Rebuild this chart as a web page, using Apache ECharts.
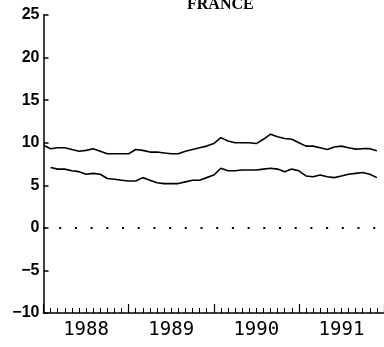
<!DOCTYPE html>
<html>
<head>
<meta charset="utf-8">
<script src="https://cdn.jsdelivr.net/npm/echarts@6/dist/echarts.min.js"></script>
<style>
  html, body { margin: 0; padding: 0; background: #fff; }
  #chart { width: 384px; height: 347px; }
</style>
</head>
<body>
<div id="chart"></div>
<script>
// monthly series, Jan 1988 onwards
let startYear = 1988;
let yearLabels = [1988, 1989, 1990, 1991];
let yTicks = [-10, -5, 0, 5, 10, 15, 20, 25];

let upperValues = [
  9.7, 9.3, 9.4, 9.4, 9.2, 9.0, 9.1, 9.3, 9.0, 8.7, 8.7, 8.7,
  8.7, 9.2, 9.1, 8.9, 8.9, 8.8, 8.7, 8.7, 9.0, 9.2, 9.4, 9.6,
  9.9, 10.6, 10.2, 10.0, 10.0, 10.0, 9.9, 10.4, 11.0, 10.7, 10.5, 10.4,
  10.0, 9.6, 9.6, 9.4, 9.2, 9.5, 9.6, 9.4, 9.25, 9.3, 9.3, 9.05
];
// lower series begins in Feb 1988
let lowerValues = [
  null, 7.1, 6.9, 6.9, 6.7, 6.6, 6.3, 6.4, 6.3, 5.8, 5.7, 5.6,
  5.5, 5.5, 5.9, 5.6, 5.3, 5.2, 5.2, 5.2, 5.4, 5.6, 5.6, 5.9,
  6.2, 7.0, 6.7, 6.7, 6.8, 6.8, 6.8, 6.9, 7.0, 6.9, 6.6, 6.9,
  6.7, 6.1, 6.0, 6.2, 6.0, 5.9, 6.1, 6.3, 6.4, 6.5, 6.3, 5.9
];

class Page {
  constructor() {
    this.init();
  }

  init() {
    this.chart = echarts.init(document.getElementById('chart'), null, { renderer: 'canvas' });
    this.chart.setOption(this.buildOptions());
  }

  toPoints(values) {
    let points = [];
    values.forEach((v, i) => {
      if (v !== null) {
        points.push([startYear + i / 12, v]);
      }
    });
    return points;
  }

  buildOptions() {
    let lineStyle = { color: '#000', width: 1.6 };

    return {
      animation: false,
      backgroundColor: '#fff',
      title: {
        text: 'FRANCE',
        left: 182,
        top: -8,
        textStyle: {
          fontFamily: 'Liberation Serif',
          fontWeight: 'bold',
          fontSize: 16,
          color: '#000'
        }
      },
      grid: {
        left: 43.5,
        right: -5.5,
        top: 15,
        bottom: 34
      },
      xAxis: {
        type: 'value',
        min: startYear,
        max: 1992,
        interval: 1,
        splitLine: { show: false },
        axisLine: { onZero: false, lineStyle: { color: '#000', width: 1.5 } },
        axisTick: {
          inside: true,
          length: 9,
          lineStyle: { color: '#000', width: 1.2 }
        },
        minorTick: {
          show: true,
          splitNumber: 12,
          length: 5,
          lineStyle: { color: '#000', width: 1 }
        },
        axisLabel: {
          customValues: yearLabels.map(y => y + 0.5),
          formatter: v => String(Math.floor(v)),
          color: '#000',
          fontFamily: 'DejaVu Sans Mono',
          fontSize: 19,
          margin: 8
        }
      },
      yAxis: {
        type: 'value',
        min: yTicks[0],
        max: yTicks[yTicks.length - 1],
        interval: 5,
        splitLine: { show: false },
        axisLine: { show: true, lineStyle: { color: '#000', width: 1.5 } },
        axisTick: {
          show: true,
          inside: true,
          length: 5,
          lineStyle: { color: '#000', width: 1.5 }
        },
        axisLabel: {
          formatter: v => (v < 0 ? '\u2212' + Math.abs(v) : String(v)),
          color: '#000',
          fontFamily: 'Liberation Sans',
          fontWeight: 'bold',
          fontSize: 16,
          margin: 4
        }
      },
      series: [{
        type: 'line',
        data: this.toPoints(upperValues),
        showSymbol: false,
        lineStyle: lineStyle,
        markLine: {
          silent: true,
          symbol: 'none',
          label: { show: false },
          lineStyle: { color: '#000', width: 2, type: [2, 13.7] },
          data: [{ yAxis: 0 }]
        }
      }, {
        type: 'line',
        data: this.toPoints(lowerValues),
        showSymbol: false,
        lineStyle: lineStyle
      }]
    };
  }
}

new Page();
</script>
</body>
</html>
